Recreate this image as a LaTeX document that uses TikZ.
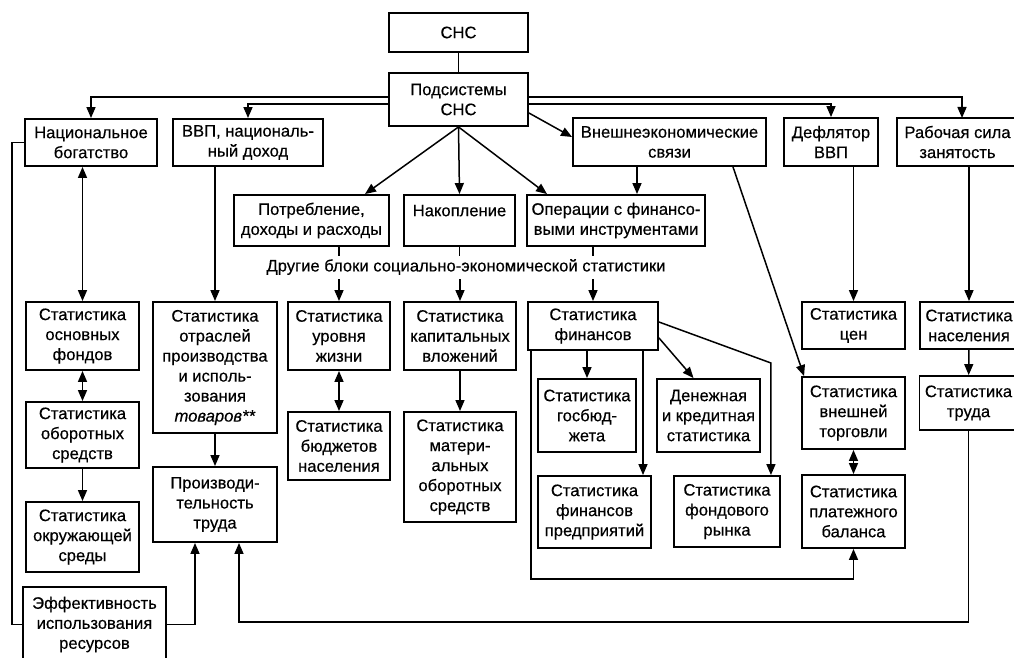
\documentclass[tikz,border=0pt]{standalone}
\usepackage{fontspec}
\setmainfont{Liberation Sans}
\newfontfamily\scanfont{Liberation Sans}[FakeBold=0.4]
\usetikzlibrary{arrows.meta}
\begin{document}
\begin{tikzpicture}[x=1pt,y=-1pt,
  box/.style={draw, line width=1.9pt, inner sep=0pt, align=center, font=\scanfont\fontsize{16.6}{20}\selectfont},
  lbl/.style={inner sep=0pt, font=\scanfont\fontsize{16.6}{20}\selectfont},
  ln/.style={line width=1.5pt},
  arr/.style={ln, -{Triangle[length=11pt,width=9pt]}},
  darr/.style={ln, {Triangle[length=11pt,width=9pt]}-{Triangle[length=11pt,width=9pt]}}]
\useasboundingbox (0,0) rectangle (1014,658);
\fill[white] (0,0) rectangle (1014,658);
\clip (0,0) rectangle (1014,658);
% top
\node[box, minimum width=139, minimum height=39] (cns) at (458.5,32.5) {СНС};
\node[box, minimum width=139, minimum height=53] (pod) at (458.5,99.5) {Подсистемы\\СНС};
\node[box, minimum width=132, minimum height=47] (nb) at (91,142.5) {Национальное\\богатство};
\node[box, minimum width=150, minimum height=47] (vvp) at (248,142.5) {ВВП, националь-\\ный доход};
\node[box, minimum width=193, minimum height=48] (ves) at (669.5,142) {Внешнеэкономические\\связи};
\node[box, minimum width=94, minimum height=48] (defl) at (831,142) {Дефлятор\\ВВП};
\node[box, minimum width=121, minimum height=48] (rab) at (957.5,142) {Рабочая сила\\занятость};
\node[box, minimum width=155, minimum height=51] (potr) at (311.5,220.5) {Потребление,\\доходы и расходы};
\node[box, minimum width=111, minimum height=51] (nak) at (459.5,220.5) {Накопление\\\mbox{}};
\node[box, minimum width=178, minimum height=51] (oper) at (616,220.5) {Операции с финансо-\\выми инструментами};
\node[lbl] (oth) at (466,267) {Другие блоки социально-экономической статистики};
% row 1
\node[box, minimum width=113, minimum height=68] (sof) at (82.5,336) {Статистика\\основных\\фондов};
\node[box, minimum width=124, minimum height=131] (sotr) at (215,367.5) {Статистика\\отраслей\\производства\\и исполь-\\зования\\\textit{товаров**}};
\node[box, minimum width=102, minimum height=68] (suz) at (339,336) {Статистика\\уровня\\жизни};
\node[box, minimum width=112, minimum height=68] (skv) at (460,336) {Статистика\\капитальных\\вложений};
\node[box, minimum width=130, minimum height=48] (sfin) at (593,326) {Статистика\\финансов};
\node[box, minimum width=103, minimum height=47] (scen) at (853.5,325.5) {Статистика\\цен};
\node[box, minimum width=98, minimum height=47] (snas) at (969,325.5) {Статистика\\населения};
% lower
\node[box, minimum width=113, minimum height=66] (sob) at (82.5,435) {Статистика\\оборотных\\средств};
\node[box, minimum width=113, minimum height=70] (sokr) at (82.5,537) {Статистика\\окружающей\\среды};
\node[box, minimum width=124, minimum height=75] (prod) at (215,504.5) {Производи-\\тельность\\труда};
\node[box, minimum width=102, minimum height=68] (sbud) at (339,446) {Статистика\\бюджетов\\населения};
\node[box, minimum width=112, minimum height=110] (smat) at (460,467) {Статистика\\матери-\\альных\\оборотных\\средств};
\node[box, minimum width=98, minimum height=73] (sgos) at (587,415.5) {Статистика\\госбюд-\\жета};
\node[box, minimum width=103, minimum height=73] (sden) at (708.5,415.5) {Денежная\\и кредитная\\статистика};
\node[box, minimum width=113, minimum height=72] (spred) at (594.5,512) {Статистика\\финансов\\предприятий};
\node[box, minimum width=106, minimum height=71] (sfond) at (727,511.5) {Статистика\\фондового\\рынка};
\node[box, minimum width=103, minimum height=72] (svt) at (853.5,413) {Статистика\\внешней\\торговли};
\node[box, minimum width=103, minimum height=73] (splat) at (853.5,511.5) {Статистика\\платежного\\баланса};
\node[box, minimum width=98, minimum height=54] (strud) at (968.5,403) {Статистика\\труда};
\node[box, minimum width=143, minimum height=75] (eff) at (94.5,624.5) {Эффективность\\использования\\ресурсов};
% bend coordinates
\coordinate (h1) at (0,97);
\coordinate (h2) at (0,104);
\coordinate (rabin) at (962,118);
\coordinate (bot) at (0,622);
\coordinate (finl) at ([xshift=4pt]sfin.south west);
\coordinate (fondin) at ([xshift=-10pt]sfond.north east);
% connectors top
\draw[ln] (cns) -- (pod);
\draw[arr] (pod.west |- h1) -| (nb.north);
\draw[arr] (pod.west |- h2) -| (vvp.north);
\draw[arr] (pod.east |- h1) -| (rabin);
\draw[arr] (pod.east |- h2) -| (defl.north);
\draw[arr] ([yshift=-13.5pt]pod.east) -- ([yshift=5pt]ves.west);
\draw[arr] (pod.south) -- (potr.north -| 365,0);
\draw[arr] (pod.south) -- (nak.north);
\draw[arr] (pod.south) -- (oper.north -| 547,0);
\draw[arr] (ves.south -| 637,0) -- (oper.north -| 637,0);
% ticks through the label
\draw[ln] (potr.south -| suz.north) -- ++(0,9);
\draw[ln] (nak.south) -- ++(0,9);
\draw[ln] (oper.south -| sfin.north) -- ++(0,9);
\draw[arr] ([yshift=22pt]suz.north) -- (suz.north);
\draw[arr] ([yshift=22pt]skv.north) -- (skv.north);
\draw[arr] ([yshift=22pt]sfin.north) -- (sfin.north);
% long vertical ones
\draw[darr] (nb.south -| sof.north) -- (sof.north);
\draw[arr] (vvp.south -| sotr.north) -- (sotr.north);
\draw[arr] (ves.south -| 733,0) -- ([xshift=3pt]svt.north west);
\draw[arr] (defl.south -| scen.north) -- (scen.north);
\draw[arr] (rab.south -| snas.north) -- (snas.north);
% left column
\draw[darr] (sof) -- (sob);
\draw[arr] (sob) -- (sokr);
\draw[arr] (sotr) -- (prod);
\draw[ln] (nb.west) -- ++(-12,0) |- (eff.west);
\draw[arr] (eff.east) -| ([xshift=-20pt]prod.south);
\draw[arr] (strud.south) -- (strud.south |- bot) -| ([xshift=24pt]prod.south);
\draw[darr] (suz) -- (sbud);
\draw[arr] (skv) -- (smat);
% finance
\draw[arr] (sfin.south -| sgos.north) -- (sgos.north);
\draw[arr] (sfin.south -| 643,0) -- (spred.north -| 643,0);
\draw[arr] ([yshift=13pt]sfin.south east) -- ([xshift=-15pt]sden.north);
\draw[arr] ([yshift=4pt]sfin.east) -- (fondin |- 0,363) -- (fondin);
\draw[arr] (finl) -- (finl |- 0,579) -| (splat.south);
\draw[darr] (svt) -- (splat);
\draw[arr] (snas) -- (strud);
\end{tikzpicture}
\end{document}
